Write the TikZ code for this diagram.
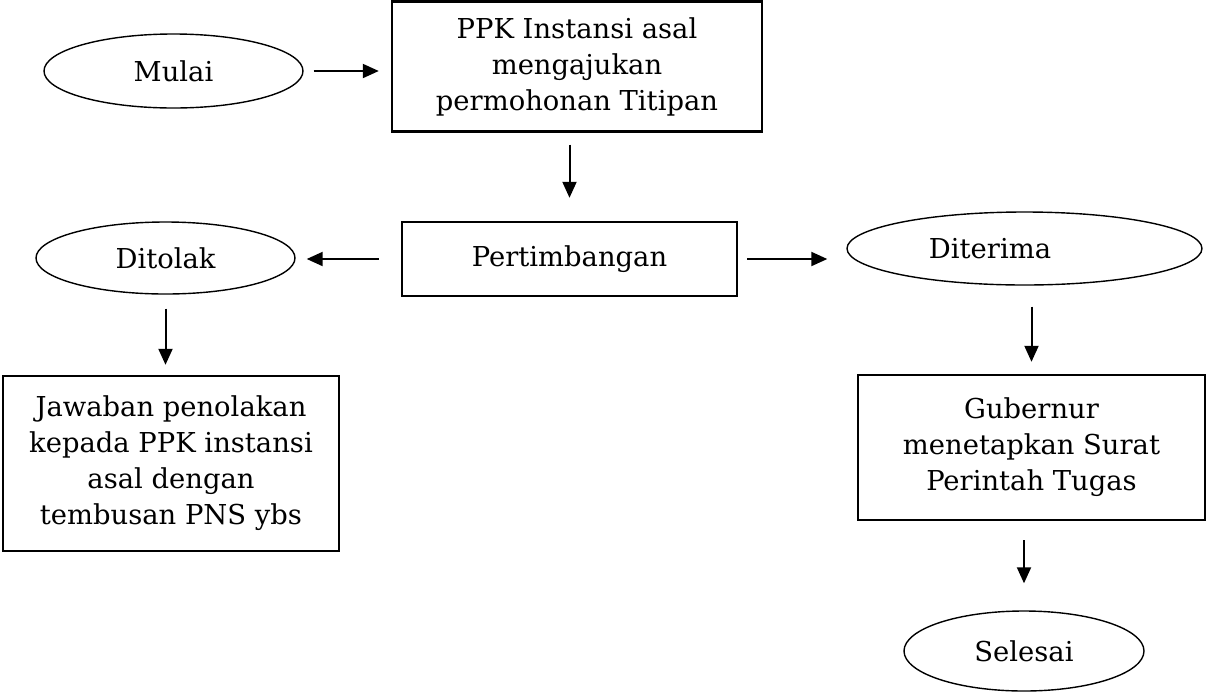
\documentclass[tikz,border=0pt]{standalone}
\usepackage{fontspec}
\setmainfont{DejaVu Serif}
\usetikzlibrary{arrows.meta,shapes.geometric}
\tikzset{
  terminal/.style={draw,ellipse,line width=0.7pt,inner sep=0pt,
    font=\fontsize{13.7}{18}\selectfont},
  proses/.style={draw,rectangle,line width=1.2pt,inner sep=0pt,align=center,
    font=\fontsize{13.7}{18}\selectfont},
  alur/.style={-{Triangle[length=8pt,width=7pt]},line width=1pt}
}

\begin{document}
\begin{tikzpicture}[x=0.5pt,y=-0.5pt]
        \useasboundingbox (0,0) rectangle (1206,692);
        % simpul (koordinat dalam piksel gambar)
        \node[terminal,minimum width=129.5pt,minimum height=37pt] (mulai) at (173.5,71) {Mulai};
        \node[proses,minimum width=185pt,minimum height=65pt] (ppk) at (577,66.5)
              {PPK Instansi asal\\ mengajukan\\ permohonan Titipan};
        \node[proses,minimum width=167.5pt,minimum height=37pt] (pert) at (569.5,259) {Pertimbangan};
        \node[terminal,minimum width=129.5pt,minimum height=36pt] (ditolak) at (165.5,258) {Ditolak};
        \node[terminal,minimum width=177.5pt,minimum height=36.5pt] (diterima) at (1024.5,248.5)
              {Diterima\hspace*{34.5pt}};
        \node[proses,minimum width=168pt,minimum height=87.5pt] (jawaban) at (171,463.5)
              {Jawaban penolakan\\ kepada PPK instansi\\ asal dengan\\ tembusan PNS ybs};
        \node[proses,minimum width=173.5pt,minimum height=72.5pt] (gubernur) at (1031.5,447.5)
              {Gubernur\\ menetapkan Surat\\ Perintah Tugas};
        \node[terminal,minimum width=120pt,minimum height=40pt] (selesai) at (1024,651) {Selesai};
        % panah
        \draw[alur,shorten <=5pt,shorten >=6pt] (mulai) -- (mulai -| ppk.west);
        \draw[alur,shorten <=6pt,shorten >=11.5pt] (ppk.south -| pert.north) -- (pert.north);
        \draw[alur,shorten <=11pt,shorten >=5.5pt] (pert.west) -- (pert.west -| ditolak.east);
        \draw[alur,shorten <=4.5pt,shorten >=9.5pt] (pert.east) -- (pert.east -| diterima.west);
        \draw[alur,shorten <=7pt,shorten >=5pt] (ditolak.south) -- (ditolak.south |- jawaban.north);
        \draw[alur,shorten <=10.5pt,shorten >=6pt] (diterima.south -| gubernur.north) -- (gubernur.north);
        \draw[alur,shorten <=9.5pt,shorten >=13.5pt] (gubernur.south -| selesai.north) -- (selesai.north);
\end{tikzpicture}
\end{document}
